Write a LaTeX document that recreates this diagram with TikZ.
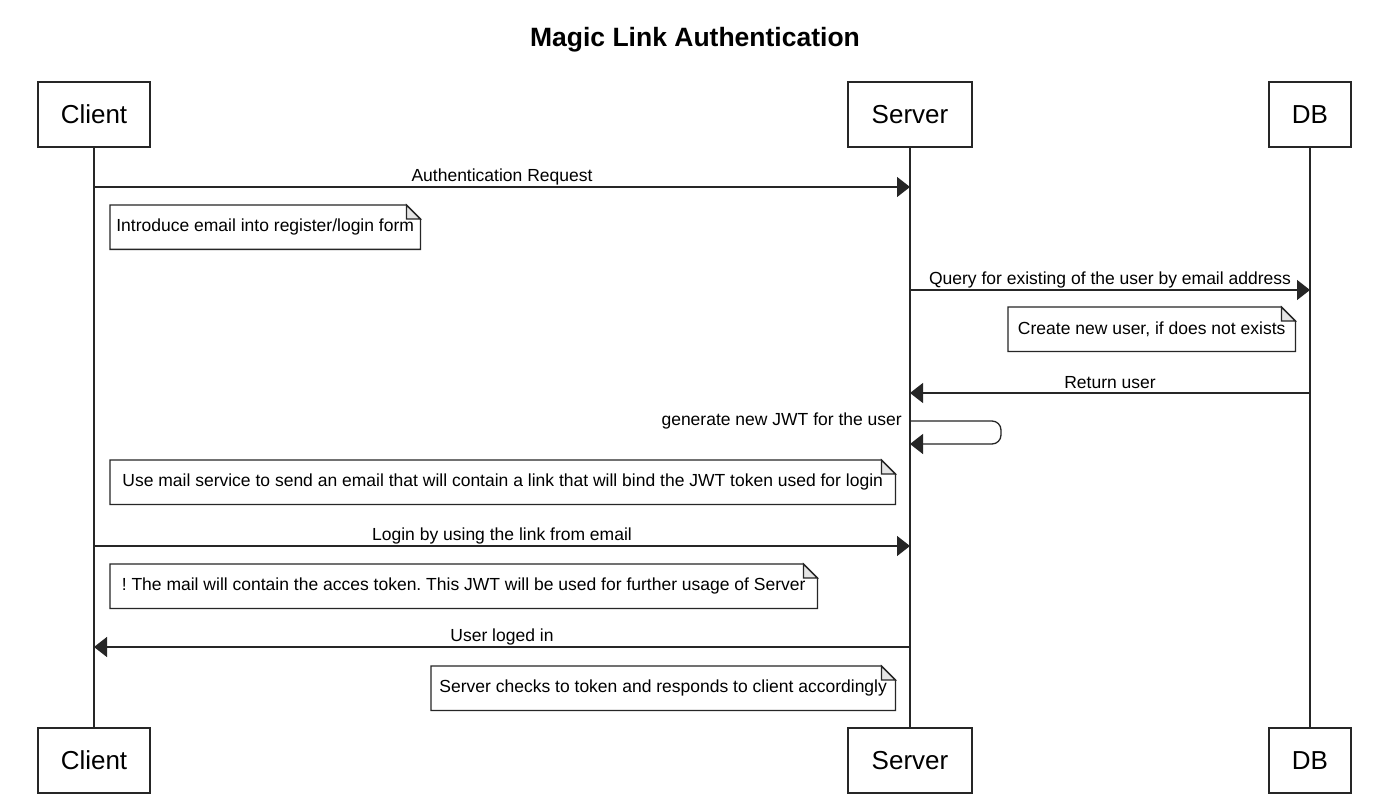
\documentclass[tikz,border=0pt]{standalone}
\usepackage{fontspec}
\setmainfont{Liberation Sans}
\usetikzlibrary{arrows.meta,calc}
\frenchspacing
\definecolor{ln}{gray}{0.15}
\definecolor{foldc}{gray}{0.9}
\newcommand\drawnote[6]{%
  \node[notetext, minimum width=#4pt, minimum height=#5pt, anchor=north west] (#1) at (#2,#3) {#6};
  \draw[notefr, fill=white] (#1.north west) -- ([xshift=-14pt]#1.north east) -- ([yshift=-14pt]#1.north east) -- (#1.south east) -- (#1.south west) -- cycle;
  \draw[notefr, fill=foldc] ([xshift=-14pt]#1.north east) -- ([xshift=-14pt,yshift=-14pt]#1.north east) -- ([yshift=-14pt]#1.north east) -- cycle;
  \node[notetext, minimum width=#4pt, minimum height=#5pt, anchor=north west] at (#2,#3) {#6};
}
\begin{document}
\frenchspacing
\begin{tikzpicture}[x=1pt,y=-1pt,
  actor/.style={draw=ln, line width=1.4pt, fill=white, minimum height=65pt, inner sep=0pt, font=\fontsize{26}{30}\selectfont},
  life/.style={draw=ln, line width=1.3pt},
  msg/.style={draw=ln, line width=1.3pt, -{Triangle[length=13pt,width=20pt]}},
  lbl/.style={inner sep=0pt, font=\fontsize{17.5}{21}\selectfont},
  notetext/.style={inner xsep=2pt, inner ysep=0pt, font=\fontsize{17.5}{21}\selectfont\frenchspacing},
  notefr/.style={draw=ln, line width=1.3pt},
  ttl/.style={font=\fontsize{26.5}{30}\selectfont\bfseries}
]
\useasboundingbox (0,0) rectangle (1384,802);
\fill[white] (0,0) rectangle (1384,802);

\node[ttl] (title) at (695,40) {Magic Link Authentication};

% actors
\node[actor, minimum width=112pt] (ct) at (94,114.5) {Client};
\node[actor, minimum width=124pt] (st) at (910,114.5) {Server};
\node[actor, minimum width=82pt] (dt) at (1310,114.5) {DB};
\node[actor, minimum width=112pt] (cb) at (94,760.5) {Client};
\node[actor, minimum width=124pt] (sb) at (910,760.5) {Server};
\node[actor, minimum width=82pt] (db) at (1310,760.5) {DB};

% lifelines
\draw[life] (ct.south) -- (cb.north);
\draw[life] (st.south) -- (sb.north);
\draw[life] (dt.south) -- (db.north);

% messages
\draw[msg] (ct.south |- 0,187) -- (st.south |- 0,187)
  node[lbl, midway, yshift=10.5pt] (l1) {Authentication Request};
\drawnote{n1}{110}{205}{310}{44}{Introduce email into register/login form}

\draw[msg] (st.south |- 0,290) -- (dt.south |- 0,290)
  node[lbl, midway, yshift=10.5pt] (l2) {Query for existing of the user by email address};
\drawnote{n2}{1008}{307}{287}{44}{Create new user, if does not exists}

\draw[msg] (dt.south |- 0,393) -- (st.south |- 0,393)
  node[lbl, midway, yshift=10.5pt] (l3) {Return user};

\coordinate (selfa) at (st.south |- 0,421);
\coordinate (selfb) at (st.south |- 0,444);
\draw[msg, rounded corners=9pt] (selfa) -- ++(91,0) -- ++(0,23) -- (selfb);
\node[lbl, anchor=east] (l4) at (902,421) {generate new JWT for the user};

\drawnote{n3}{110}{460}{785}{44}{Use mail service to send an email that will contain a link that will bind the JWT token used for login}

\draw[msg] (ct.south |- 0,546) -- (st.south |- 0,546)
  node[lbl, midway, yshift=10.5pt] (l5) {Login by using the link from email};
\drawnote{n4}{110}{564}{707}{44}{! The mail will contain the acces token. This JWT will be used for further usage of Server}

\draw[msg] (st.south |- 0,647) -- (ct.south |- 0,647)
  node[lbl, midway, yshift=10.5pt] (l6) {User loged in};
\drawnote{n5}{431}{666}{464}{44}{Server checks to token and responds to client accordingly}
\end{tikzpicture}
\end{document}
